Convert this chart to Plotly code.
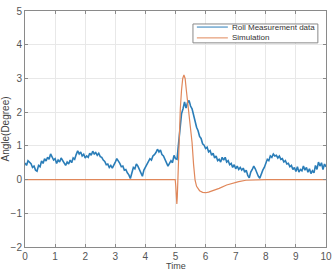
import plotly.graph_objects as go

# Roll measurement data (sampled every 0.05 s)
meas_t = [round(i * 0.05, 2) for i in range(201)]
meas_v = [
    0.49, 0.42, 0.56, 0.50, 0.47, 0.36, 0.40, 0.28, 0.25, 0.42,
    0.38, 0.55, 0.48, 0.62, 0.55, 0.66, 0.60, 0.76, 0.68, 0.58,
    0.62, 0.48, 0.58, 0.52, 0.64, 0.55, 0.50, 0.42, 0.52, 0.46,
    0.58, 0.50, 0.64, 0.60, 0.74, 0.85, 0.76, 0.82, 0.70, 0.75,
    0.64, 0.70, 0.66, 0.78, 0.72, 0.84, 0.76, 0.80, 0.72, 0.78,
    0.68, 0.66, 0.58, 0.54, 0.44, 0.46, 0.36, 0.42, 0.34, 0.46,
    0.52, 0.62, 0.56, 0.48, 0.38, 0.40, 0.28, 0.30, 0.20, 0.14,
    0.03, 0.24, 0.36, 0.32, 0.46, 0.40, 0.30, 0.22, 0.10, 0.28,
    0.36, 0.44, 0.50, 0.62, 0.58, 0.70, 0.74, 0.80, 0.90, 0.82,
    0.88, 0.74, 0.70, 0.58, 0.50, 0.40, 0.48, 0.56, 0.50, 0.72,
    0.62, 0.60, 1.05, 1.60, 1.95, 2.10, 2.30, 2.12, 2.28, 2.35,
    2.18, 2.10, 1.90, 1.78, 1.55, 1.45, 1.28, 1.22, 1.06, 1.02,
    0.92, 0.96, 0.82, 0.86, 0.72, 0.78, 0.64, 0.70, 0.56, 0.60,
    0.52, 0.66, 0.58, 0.66, 0.52, 0.56, 0.44, 0.48, 0.36, 0.44,
    0.32, 0.40, 0.30, 0.36, 0.28, 0.34, 0.22, 0.28, 0.12, 0.05,
    0.22, 0.30, 0.40, 0.32, 0.20, 0.10, 0.04, 0.20, 0.28, 0.36,
    0.46, 0.60, 0.56, 0.70, 0.66, 0.76, 0.70, 0.72, 0.64, 0.70,
    0.60, 0.62, 0.52, 0.56, 0.46, 0.48, 0.38, 0.42, 0.30, 0.36,
    0.24, 0.38, 0.22, 0.30, 0.26, 0.40, 0.28, 0.36, 0.22, 0.32,
    0.18, 0.26, 0.20, 0.42, 0.30, 0.52, 0.40, 0.50, 0.30, 0.46,
    0.38,
]

# Simulation
sim_t = [0, 4.99, 5.01, 5.03, 5.045, 5.06, 5.08, 5.1, 5.13, 5.16, 5.2, 5.24,
         5.28, 5.32, 5.36, 5.4, 5.45, 5.5, 5.55, 5.6, 5.65, 5.7, 5.8, 5.9,
         6.0, 6.1, 6.2, 6.45, 6.7, 6.9, 7.1, 7.34, 7.6, 8.0, 10]
sim_v = [0, 0, -0.2, -0.6, -0.72, -0.5, 0.1, 0.75, 1.5, 2.1, 2.65, 3.0,
         3.1, 3.0, 2.65, 2.35, 1.95, 1.5, 1.1, 0.45, -0.02, -0.2, -0.33, -0.38,
         -0.39, -0.37, -0.34, -0.26, -0.16, -0.1, -0.06, -0.02, -0.01, 0, 0]

series_names = ["Roll Measurement data", "Simulation"]
series_colors = ["#2a7db8", "#e0875a"]

x_ticks = list(range(0, 11))
y_ticks = list(range(-2, 6))

fig = go.Figure()
fig.add_trace(go.Scatter(x=meas_t, y=meas_v, mode="lines",
                         name=series_names[0], showlegend=False,
                         line=dict(color=series_colors[0], width=1.6)))
fig.add_trace(go.Scatter(x=sim_t, y=sim_v, mode="lines", name=series_names[1],
                         showlegend=False,
                         line=dict(color=series_colors[1], width=1.2)))

FONT = "Liberation Sans, Arial"
axis_common = dict(showgrid=True, gridcolor="#e8e8e8", gridwidth=1,
                   zeroline=False, showline=True, linecolor="#8a8a8a",
                   linewidth=1, mirror="ticks", ticks="inside", ticklen=3,
                   tickcolor="#8a8a8a", automargin=False,
                   tickfont=dict(family=FONT, size=10, color="#555555"))

fig.update_layout(
    width=332, height=272,
    margin=dict(l=25, r=6, t=11, b=25),
    paper_bgcolor="white", plot_bgcolor="white",
    font=dict(family=FONT, color="#444444"),
    xaxis=dict(range=[0, 10], tickvals=x_ticks, **axis_common),
    yaxis=dict(range=[-2, 5], tickvals=y_ticks,
               title=dict(text="Angle(Degree)", standoff=4,
                          font=dict(size=10, color="#444444")),
               **axis_common),
    showlegend=False,
)

# x-axis title placed just below the tick labels, kept inside the image
fig.add_annotation(xref="paper", yref="paper", x=0.5, y=-25 / 236,
                   text="Time", showarrow=False, xanchor="center",
                   yanchor="bottom", borderpad=0,
                   font=dict(family=FONT, size=9, color="#444444"))

# Custom compact legend (MATLAB style box)
lx0, lx1, ly0, ly1 = 0.558, 0.973, 0.865, 0.945
fig.add_shape(type="rect", xref="paper", yref="paper", x0=lx0, x1=lx1,
              y0=ly0, y1=ly1, line=dict(color="#888888", width=1),
              fillcolor="white", layer="above")
row_y = [0.932, 0.886]
for name, color, yy in zip(series_names, series_colors, row_y):
    fig.add_shape(type="line", xref="paper", yref="paper", x0=0.571, x1=0.674,
                  y0=yy, y1=yy, line=dict(color=color, width=1),
                  layer="above")
    fig.add_annotation(xref="paper", yref="paper", x=0.680, y=yy, text=name,
                       showarrow=False, xanchor="left", yanchor="middle",
                       font=dict(family=FONT, size=8, color="#333333"))

fig.write_html("out.html")
